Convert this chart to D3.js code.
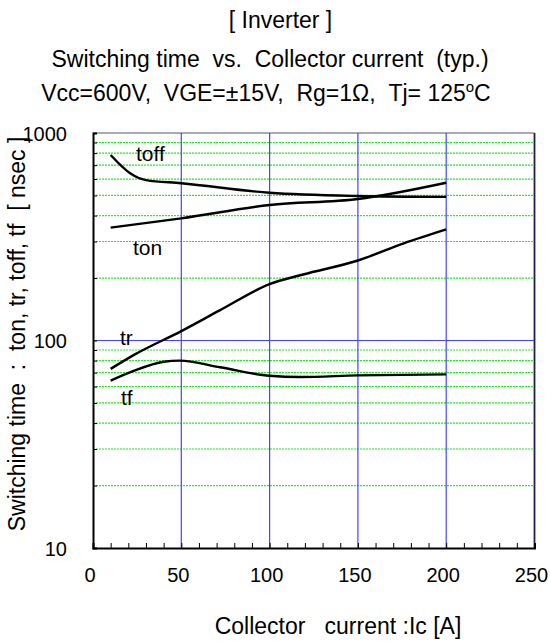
<!DOCTYPE html>
<html>
<head>
<meta charset="utf-8">
<script src="https://cdn.jsdelivr.net/npm/d3@7"></script>
<style>
  body { margin: 0; background: #fff; }
  text { font-family: "Liberation Sans", Arial, sans-serif; fill: #000; white-space: pre; }
</style>
</head>
<body>
<svg id="chart" width="550" height="642"></svg>
<script>
// values (Ic in A, time in nsec)
var toffIc = [10, 21, 30, 50, 100, 150, 200];
var toffNs = [783, 640, 593, 573, 515, 497, 492];
var tonIc = [10, 50, 100, 150, 200];
var tonNs = [350, 388, 450, 481, 576];
var trIc = [10, 23, 50, 72, 100, 119, 150, 176, 200];
var trNs = [73, 85, 111, 140, 187, 208, 243, 294, 343];
var tfIc = [10, 23, 40, 49, 72, 100, 117, 150, 200];
var tfNs = [64, 71.3, 79, 80, 74.3, 67.6, 66.7, 67.9, 68.7];
var xTicks = [0, 50, 100, 150, 200, 250];
var yTicks = [10, 100, 1000];
var titleLines = ['[ Inverter ]', 'Switching time  vs.  Collector current  (typ.)'];

var svg = d3.select('#chart');
var plotL = 93, plotR = 534.5, plotT = 133, plotB = 548;

var x = d3.scaleLinear().domain([0, 250]).range([plotL, plotR]);
var y = d3.scaleLog().domain([10, 1000]).range([plotB, plotT]);

// minor values for the log grid
var minors = [];
[10, 100].forEach(function(d) {
  for (var k = 2; k <= 9; k++) minors.push(d * k);
});

// green minor grid
svg.append('g').selectAll('line').data(minors).join('line')
  .attr('x1', plotL).attr('x2', plotR)
  .attr('y1', function(d) { return y(d); }).attr('y2', function(d) { return y(d); })
  .attr('stroke', '#22ee22').attr('stroke-width', 1.2).attr('stroke-dasharray', '2,1');

// blue major grid
svg.append('g').selectAll('line').data([50, 100, 150, 200]).join('line')
  .attr('x1', function(d) { return x(d); }).attr('x2', function(d) { return x(d); })
  .attr('y1', plotT).attr('y2', plotB)
  .attr('stroke', '#4444ff').attr('stroke-width', 1.2);
svg.append('line')
  .attr('x1', plotL).attr('x2', plotR).attr('y1', y(100)).attr('y2', y(100))
  .attr('stroke', '#4444ff').attr('stroke-width', 1.2);

// frame top and right
svg.append('line').attr('x1', plotL).attr('x2', plotR).attr('y1', plotT).attr('y2', plotT)
  .attr('stroke', '#555570').attr('stroke-width', 1.2);
svg.append('line').attr('x1', plotR).attr('x2', plotR).attr('y1', plotT).attr('y2', plotB)
  .attr('stroke', '#202050').attr('stroke-width', 1.8);

// bottom axis with inward minor ticks
var xAxis = d3.axisBottom(x).tickValues(d3.range(0, 251, 10))
  .tickSize(-5).tickFormat('');
var gx = svg.append('g').attr('transform', 'translate(0,' + plotB + ')').call(xAxis);
gx.select('.domain').attr('stroke', '#000').attr('stroke-width', 2);
gx.selectAll('.tick line').attr('stroke', '#000').attr('stroke-width', 1);

svg.append('g').selectAll('text').data(xTicks).join('text')
  .attr('x', function(d) { return x(d) - 3; }).attr('y', 582)
  .attr('text-anchor', 'middle').attr('font-size', 20)
  .text(function(d) { return d; });

// left axis with inward ticks
var yAxis = d3.axisLeft(y).tickValues(minors.concat(yTicks))
  .tickSize(-4).tickFormat('');
var gy = svg.append('g').attr('transform', 'translate(' + plotL + ',0)').call(yAxis);
gy.select('.domain').attr('stroke', '#000').attr('stroke-width', 2);
gy.selectAll('.tick line').attr('stroke', '#000').attr('stroke-width', 1);

svg.append('g').selectAll('text').data(yTicks).join('text')
  .attr('x', 67).attr('y', function(d) { return y(d) + 7.5; })
  .attr('text-anchor', 'end').attr('font-size', 20)
  .text(function(d) { return d; });

// curves
var line = d3.line()
  .x(function(d) { return x(d[0]); })
  .y(function(d) { return y(d[1]); })
  .curve(d3.curveMonotoneX);

var series = [[toffIc, toffNs], [tonIc, tonNs], [trIc, trNs], [tfIc, tfNs]];
series.forEach(function(s) {
  svg.append('path')
    .datum(d3.zip(s[0], s[1]))
    .attr('d', line)
    .attr('fill', 'none').attr('stroke', '#000').attr('stroke-width', 2.4);
});

// curve labels
var labels = [['toff', 136, 161], ['ton', 133, 255], ['tr', 120, 345], ['tf', 121, 405]];
svg.append('g').selectAll('text').data(labels).join('text')
  .attr('x', function(d) { return d[1]; }).attr('y', function(d) { return d[2]; })
  .attr('font-size', 21)
  .text(function(d) { return d[0]; });

// titles
svg.append('text').attr('x', 280.5).attr('y', 28).attr('text-anchor', 'middle')
  .attr('font-size', 23).text(titleLines[0]);
svg.append('text').attr('x', 270).attr('y', 67).attr('text-anchor', 'middle')
  .attr('font-size', 23).text(titleLines[1]);
var t3 = svg.append('text').attr('x', 266).attr('y', 101).attr('text-anchor', 'middle')
  .attr('font-size', 23);
t3.append('tspan').text('Vcc=600V,  VGE=\u00b115V,  Rg=1\u03a9,  Tj= 125');
t3.append('tspan').attr('font-size', 15).attr('dy', -9).text('o');
t3.append('tspan').attr('dy', 9).text('C');

// axis titles
svg.append('text').attr('x', 338).attr('y', 634).attr('text-anchor', 'middle')
  .attr('font-size', 23)
  .text('Collector   current :Ic [A]');
svg.append('text')
  .attr('transform', 'translate(25,334) rotate(-90)')
  .attr('text-anchor', 'middle').attr('font-size', 23)
  .text('Switching time  :  ton, tr, toff, tf  [ nsec ]');
</script>
</body>
</html>
